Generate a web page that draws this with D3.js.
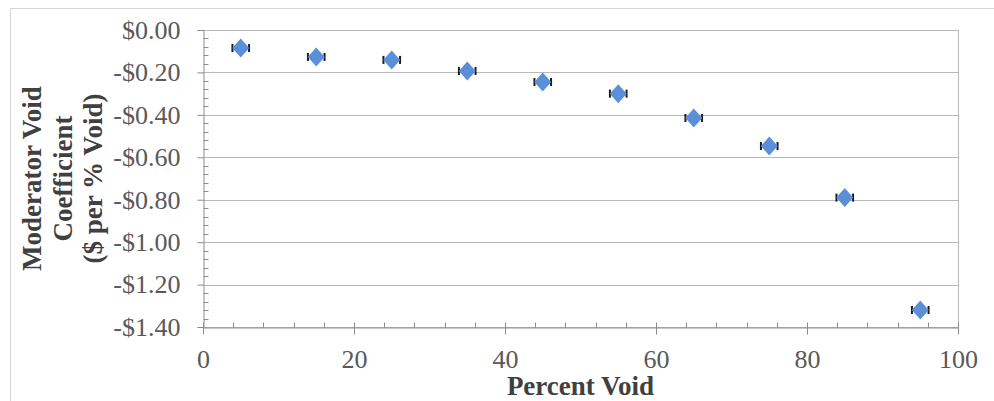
<!DOCTYPE html>
<html>
<head>
<meta charset="utf-8">
<script src="https://cdn.jsdelivr.net/npm/d3@7"></script>
<style>
  body { margin: 0; background: #fff; }
  svg { display: block; }
  svg text { font-family: "Liberation Serif", "Times New Roman", Tinos, "DejaVu Serif", serif !important; }
</style>
</head>
<body>
<svg id="chart" width="994" height="401"></svg>
<script>
const percentVoid = [5, 15, 25, 35, 45, 55, 65, 75, 85, 95];
const coefficient = [-0.085, -0.127, -0.141, -0.193, -0.245, -0.300, -0.415, -0.547, -0.790, -1.320];
const errorHalfWidth = 1.1; // horizontal error bar, in % void
const yTicks = [0, -0.2, -0.4, -0.6, -0.8, -1.0, -1.2, -1.4];
const xTicks = [0, 20, 40, 60, 80, 100];

const width = 994;
const height = 401;
const margin = { top: 30, right: 36, bottom: 74, left: 203 };

const svg = d3.select("#chart");

// outer chart-area frame (only top/left visible in picture)
svg.append("path")
  .attr("d", `M10.5,${height} V8.5 H${width}`)
  .attr("fill", "none")
  .attr("stroke", "#d4d4d4");

const x = d3.scaleLinear().domain([0, 100]).range([margin.left, width - margin.right]);
const y = d3.scaleLinear().domain([-1.4, 0]).range([height - margin.bottom, margin.top]);

const axisColor = "#8c8c8c";

// horizontal gridlines
svg.append("g")
  .selectAll("line")
  .data(yTicks)
  .join("line")
  .attr("x1", x(0))
  .attr("x2", x(100))
  .attr("y1", (d) => Math.round(y(d)) + 0.5)
  .attr("y2", (d) => Math.round(y(d)) + 0.5)
  .attr("stroke", "#b8b8b8");

// right frame of plot
svg.append("line")
  .attr("x1", Math.round(x(100)) + 0.5)
  .attr("x2", Math.round(x(100)) + 0.5)
  .attr("y1", y(0))
  .attr("y2", y(-1.4))
  .attr("stroke", "#b8b8b8");

const money = (v) => (v < 0 ? "-$" : "$") + Math.abs(v).toFixed(2);

// y axis: major ticks outside, minor ticks inside
const yAxis = svg.append("g")
  .attr("transform", `translate(${Math.round(x(0)) + 0.5},0)`)
  .call(d3.axisLeft(y).tickValues(yTicks).tickSize(6).tickPadding(17).tickFormat(money));
yAxis.attr("font-family", null).attr("font-size", 26);
yAxis.select(".domain").attr("stroke", axisColor);
yAxis.selectAll(".tick line").attr("stroke", axisColor);
yAxis.selectAll("text").attr("fill", "#595959");

const yMinor = d3.range(-1.4, 0.0001, 0.04).filter((v) => Math.abs(v / 0.2 - Math.round(v / 0.2)) > 1e-6);
svg.append("g")
  .selectAll("line")
  .data(yMinor)
  .join("line")
  .attr("x1", Math.round(x(0)) + 0.5)
  .attr("x2", Math.round(x(0)) + 5.5)
  .attr("y1", (d) => Math.round(y(d)) + 0.5)
  .attr("y2", (d) => Math.round(y(d)) + 0.5)
  .attr("stroke", axisColor);

// x axis: major ticks crossing, minor ticks inside
const xAxis = svg.append("g")
  .attr("transform", `translate(0,${Math.round(y(-1.4)) + 0.5})`)
  .call(d3.axisBottom(x).tickValues(xTicks).tickSizeInner(7).tickSizeOuter(0));
xAxis.attr("font-family", null).attr("font-size", 26);
xAxis.select(".domain").attr("stroke", axisColor);
xAxis.selectAll(".tick line").attr("stroke", axisColor).attr("y1", -5);
xAxis.selectAll("text").attr("fill", "#595959").attr("y", 40).attr("dy", 0);

const xMinor = d3.range(0, 101, 4).filter((v) => v % 20 !== 0);
svg.append("g")
  .selectAll("line")
  .data(xMinor)
  .join("line")
  .attr("x1", (d) => Math.round(x(d)) + 0.5)
  .attr("x2", (d) => Math.round(x(d)) + 0.5)
  .attr("y1", Math.round(y(-1.4)) + 0.5)
  .attr("y2", Math.round(y(-1.4)) - 4.5)
  .attr("stroke", axisColor);

// points with horizontal error bars
const points = percentVoid.map((p, i) => ({ p, v: coefficient[i] }));

const errs = svg.append("g").attr("stroke", "#1a1a1a").attr("stroke-width", 2);
points.forEach((d) => {
  const cy = y(d.v);
  const x0 = x(d.p - errorHalfWidth);
  const x1 = x(d.p + errorHalfWidth);
  errs.append("line").attr("x1", x0).attr("x2", x1).attr("y1", cy).attr("y2", cy);
  errs.append("line").attr("x1", x0).attr("x2", x0).attr("y1", cy - 4).attr("y2", cy + 4);
  errs.append("line").attr("x1", x1).attr("x2", x1).attr("y1", cy - 4).attr("y2", cy + 4);
});

svg.append("g")
  .selectAll("path")
  .data(points)
  .join("path")
  .attr("transform", (d) => `translate(${x(d.p)},${y(d.v)})`)
  .attr("d", "M0,-9.5 L8.5,0 L0,9.5 L-8.5,0 Z")
  .attr("fill", "#5b8fd9");

// axis titles
svg.append("text")
  .attr("x", (x(0) + x(100)) / 2)
  .attr("y", 395)
  .attr("text-anchor", "middle")
  .attr("font-size", 27)
  .attr("font-weight", 700)
  .attr("fill", "#404040")
  .text("Percent Void");

const yTitle = ["Moderator Void", "Coefficient", "($ per % Void)"];
const yTitleG = svg.append("g")
  .attr("transform", `translate(0,${(y(0) + y(-1.4)) / 2}) rotate(-90)`);
yTitleG.selectAll("text")
  .data(yTitle)
  .join("text")
  .attr("x", 0)
  .attr("y", (d, i) => 41 + i * 30.5)
  .attr("text-anchor", "middle")
  .attr("font-size", 27)
  .attr("font-weight", 700)
  .attr("fill", "#404040")
  .text((d) => d);
</script>
</body>
</html>
